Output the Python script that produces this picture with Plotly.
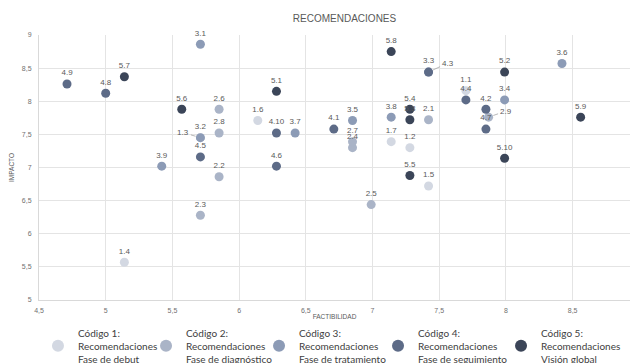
import plotly.graph_objects as go

# ---- data ----
code1_labels = ["1.1", "1.2", "1.3", "1.4", "1.5", "1.6", "1.7"]
code1_x = [7.70, 7.28, 5.71, 5.14, 7.42, 6.14, 7.14]
code1_y = [8.16, 7.30, 7.45, 5.57, 6.72, 7.71, 7.39]

code2_labels = ["2.1", "2.2", "2.3", "2.4", "2.5", "2.6", "2.7", "2.8", "2.9"]
code2_x = [7.42, 5.85, 5.71, 6.85, 6.99, 5.85, 6.85, 5.85, 7.87]
code2_y = [7.72, 6.86, 6.28, 7.30, 6.44, 7.88, 7.39, 7.52, 7.76]

code3_labels = ["3.1", "3.2", "3.3", "3.4", "3.5", "3.6", "3.7", "3.8", "3.9"]
code3_x = [5.71, 5.71, 7.42, 7.99, 6.85, 8.42, 6.42, 7.14, 5.42]
code3_y = [8.86, 7.45, 8.44, 8.02, 7.71, 8.57, 7.52, 7.76, 7.02]

code4_labels = ["4.1", "4.2", "4.3", "4.4", "4.5", "4.6", "4.7", "4.8", "4.9", "4.10"]
code4_x = [6.71, 7.85, 7.42, 7.70, 5.71, 6.28, 7.85, 5.00, 4.71, 6.28]
code4_y = [7.58, 7.88, 8.44, 8.02, 7.16, 7.02, 7.58, 8.12, 8.26, 7.52]

code5_labels = ["5.1", "5.2", "5.3", "5.4", "5.5", "5.6", "5.7", "5.8", "5.9", "5.10"]
code5_x = [6.28, 7.99, 7.28, 7.28, 7.28, 5.57, 5.14, 7.14, 8.56, 7.99]
code5_y = [8.15, 8.44, 7.72, 7.88, 6.88, 7.88, 8.37, 8.75, 7.76, 7.14]

series_names = [
    "Código 1:<br>Recomendaciones<br>Fase de debut",
    "Código 2:<br>Recomendaciones<br>Fase de diagnóstico",
    "Código 3:<br>Recomendaciones<br>Fase de tratamiento",
    "Código 4:<br>Recomendaciones<br>Fase de seguimiento",
    "Código 5:<br>Recomendaciones<br>Visión global",
]
x_ticks = [4.5, 5, 5.5, 6, 6.5, 7, 7.5, 8, 8.5]
y_ticks = [5, 5.5, 6, 6.5, 7, 7.5, 8, 8.5, 9]

# ---- style ----
colors = ["#d3d8e2", "#aab4c7", "#8c9bb6", "#5d6b87", "#3b4558"]
legend_x = [0.060, 0.2307, 0.4092, 0.5972, 0.7915]
callouts = {"1.3": (-17, -5), "4.3": (19, -9), "2.9": (17, -6)}
label_font = dict(family="Liberation Sans, Arial, sans-serif", size=8, color="#595959")

series = [
    (code1_labels, code1_x, code1_y),
    (code2_labels, code2_x, code2_y),
    (code3_labels, code3_x, code3_y),
    (code4_labels, code4_x, code4_y),
    (code5_labels, code5_x, code5_y),
]

fig = go.Figure()
annotations = []
legend_layout = {}
for i, ((labels, xs, ys), name, col) in enumerate(zip(series, series_names, colors)):
    lg = "legend" if i == 0 else f"legend{i + 1}"
    texts = ["" if lb in callouts else lb for lb in labels]
    fig.add_trace(go.Scatter(
        x=xs, y=ys, mode="markers+text", name=name, legend=lg,
        text=texts, textposition="top center", textfont=label_font,
        marker=dict(size=9, color=col),
        cliponaxis=False,
    ))
    legend_layout[lg] = dict(
        orientation="h", xref="container", yref="container",
        x=legend_x[i], y=0.119, xanchor="left", yanchor="top",
        font=dict(family="Lato, sans-serif", size=10, color="#404040"),
        itemwidth=30, itemsizing="constant", valign="middle",
        bgcolor="rgba(0,0,0,0)",
    )
    for lb, x, y in zip(labels, xs, ys):
        if lb in callouts:
            ax, ay = callouts[lb]
            annotations.append(dict(
                x=x, y=y, xref="x", yref="y", text=lb, showarrow=True,
                arrowhead=0, arrowwidth=0.7, arrowcolor="#9a9a9a",
                ax=ax, ay=ay, standoff=5, font=label_font,
            ))

axis_font = dict(family="Liberation Sans, Arial, sans-serif", size=7, color="#707070")
title_small = dict(family="Liberation Sans, Arial, sans-serif", size=6.5, color="#595959")

fig.update_layout(
    width=633, height=363,
    margin=dict(l=39, r=3, t=35, b=63),
    paper_bgcolor="white", plot_bgcolor="white",
    separators=",.",
    title=dict(text="RECOMENDACIONES", x=0.517, xref="paper", y=0.948, yref="container",
               xanchor="center", yanchor="middle",
               font=dict(family="Liberation Sans, Arial, sans-serif", size=10, color="#595959")),
    xaxis=dict(range=[4.5, 8.93], tickvals=x_ticks, showgrid=True, gridcolor="#e4e4e4",
               gridwidth=1, zeroline=False, showline=True, linecolor="#d9d9d9",
               tickfont=axis_font, ticks="", automargin=False, ticklabelstandoff=4,
               title=dict(text="FACTIBILIDAD", font=title_small, standoff=21)),
    yaxis=dict(range=[5, 9], tickvals=y_ticks, showgrid=True, gridcolor="#e4e4e4",
               gridwidth=1, zeroline=False, showline=True, linecolor="#d9d9d9",
               tickfont=axis_font, ticks="", automargin=False, ticklabelstandoff=5,
               title=dict(text="IMPACTO", font=title_small, standoff=6)),
    showlegend=True,
    annotations=annotations,
    **legend_layout,
)

fig.write_html(
    "out.html",
    config={"displayModeBar": False},
    post_script="document.body.style.margin='0';document.body.style.overflow='hidden';",
)
